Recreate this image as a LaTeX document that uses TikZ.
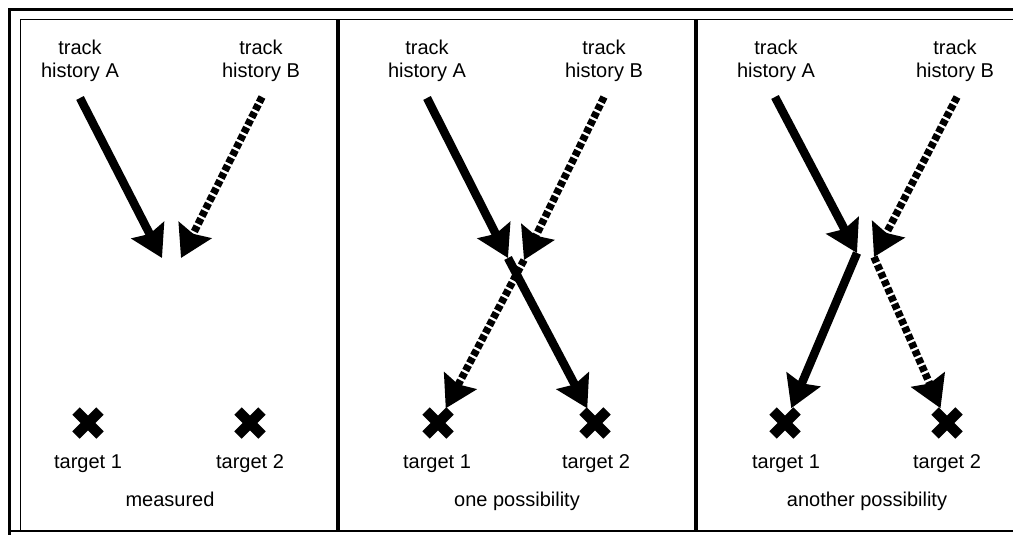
\documentclass[tikz,border=0pt]{standalone}
\usepackage{fontspec}
\setmainfont{Liberation Sans}
\usetikzlibrary{arrows.meta,shapes.misc}
\begin{document}
\begin{tikzpicture}[x=1pt,y=-1pt,
  lbl/.style={font=\fontsize{20}{23}\selectfont, inner sep=0pt, align=center},
  head/.style={-{Stealth[length=31pt,width=36pt,inset=4pt]}},
  solidtrack/.style={line width=8.5pt, head},
  dottrack/.style={line width=7.5pt, dash pattern=on 6pt off 2.5pt, head},
  xmark/.style={cross out, draw, line width=10.5pt, minimum size=24pt, inner sep=0pt, outer sep=0pt},
  intrack/.style={shorten >=3pt},
]
\useasboundingbox (0,0) rectangle (1013,535);
% frame
\draw[line width=3pt] (9,535) -- (9,10) -- (1013,10);
\draw[line width=1pt] (20,531) -- (20,20) -- (1013,20);
\draw[line width=2.5pt] (9,531) -- (1013,531);
\draw[line width=3.5pt] (338,20) -- (338,531);
\draw[line width=3.5pt] (696,20) -- (696,531);

% ---------- panel 1: measured
\node[lbl, anchor=north] (hA1) at (80,40) {track\\history A};
\node[lbl, anchor=north] (hB1) at (261,40) {track\\history B};
\coordinate (sA1) at (80,98);
\coordinate (eA1) at (162,258);
\coordinate (sB1) at (262,97);
\coordinate (eB1) at (181,258);
\draw[dottrack] (sB1) -- (eB1);
\draw[solidtrack] (sA1) -- (eA1);
\node[xmark] (x11) at (88,423) {};
\node[xmark] (x12) at (250,423) {};
\node[lbl, anchor=base] (t11) at (88,468) {target 1};
\node[lbl, anchor=base] (t12) at (250,468) {target 2};
\node[lbl, anchor=base] (c1) at (170,506) {measured};

% ---------- panel 2: one possibility
\node[lbl, anchor=north] (hA2) at (427,40) {track\\history A};
\node[lbl, anchor=north] (hB2) at (604,40) {track\\history B};
\coordinate (sA2) at (427,98);
\coordinate (mA2) at (508,258);
\coordinate (sB2) at (604,97);
\coordinate (mB2) at (524,260);
\node[xmark] (x21) at (438,423) {};
\node[xmark] (x22) at (595,423) {};
\draw[dottrack] (sB2) -- (mB2);
\draw[dottrack, intrack] (mB2) -- (x21);
\draw[solidtrack] (sA2) -- (mA2);
\draw[solidtrack, intrack] (mA2) -- (x22);
\node[lbl, anchor=base] (t21) at (437,468) {target 1};
\node[lbl, anchor=base] (t22) at (596,468) {target 2};
\node[lbl, anchor=base] (c2) at (517,506) {one possibility};

% ---------- panel 3: another possibility
\node[lbl, anchor=north] (hA3) at (776,40) {track\\history A};
\node[lbl, anchor=north] (hB3) at (955,40) {track\\history B};
\coordinate (sA3) at (775,97);
\coordinate (mA3) at (857,253);
\coordinate (sB3) at (957,97);
\coordinate (mB3) at (874,257);
\node[xmark] (x31) at (785,423) {};
\node[xmark] (x32) at (947,423) {};
\draw[dottrack] (sB3) -- (mB3);
\draw[dottrack, intrack] (mB3) -- (x32);
\draw[solidtrack] (sA3) -- (mA3);
\draw[solidtrack, intrack] (mA3) -- (x31);
\node[lbl, anchor=base] (t31) at (786,468) {target 1};
\node[lbl, anchor=base] (t32) at (947,468) {target 2};
\node[lbl, anchor=base] (c3) at (867,506) {another possibility};
\end{tikzpicture}
\end{document}
